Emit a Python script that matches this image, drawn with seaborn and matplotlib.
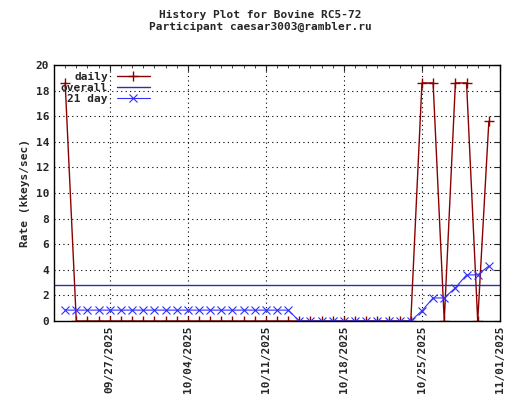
import matplotlib
matplotlib.use("Agg")
import matplotlib.pyplot as plt
import matplotlib.dates as mdates
import seaborn as sns
import pandas as pd
import numpy as np

sns.set_style("white")
plt.rcParams['font.family'] = ['DejaVu Sans Mono']

daily_dates = pd.date_range("2025-09-23", "2025-10-31", freq="D")
daily_vals = [18.6] + [0.0]*31 + [18.6, 18.6, 0.0, 18.6, 18.6, 0.0, 15.6]
avg_vals = [0.85]*21 + [0.0]*11 + [0.8, 1.8, 1.8, 2.6, 3.6, 3.6, 4.3]
overall = 2.8
title = "History Plot for Bovine RC5-72\nParticipant caesar3003@rambler.ru"

df = pd.DataFrame({"date": daily_dates, "daily": daily_vals, "avg": avg_vals})

fig = plt.figure(figsize=(5.2, 4.0), dpi=100)
ax = fig.add_axes([54/520, 1-321/400, 446/520, 256/400])
sns.lineplot(data=df, x="date", y="daily", ax=ax, color="#8b0000", lw=1,
             marker="+", markersize=7, mew=1, mec="#8b0000", label="daily")
ax.axhline(overall, color="#3030a0", lw=1, label="overall")
sns.lineplot(data=df, x="date", y="avg", ax=ax, color="#3030ff", lw=0.8,
             marker="x", markersize=6, mew=0.8, mec="#3030ff", label="21 day")

ax.set_xlim(pd.Timestamp("2025-09-22"), pd.Timestamp("2025-11-01"))
ax.set_ylim(0, 20)
ax.set_yticks(np.arange(0, 21, 2))
ax.xaxis.set_major_locator(mdates.WeekdayLocator(byweekday=mdates.SA))
ax.xaxis.set_major_formatter(mdates.DateFormatter("%m/%d/%Y"))
ax.xaxis.set_minor_locator(mdates.DayLocator())
plt.setp(ax.get_xticklabels(), rotation=90, fontsize=8, fontweight="bold")
plt.setp(ax.get_yticklabels(), fontsize=8, fontweight="bold")
ax.tick_params(which="both", direction="in", top=True, right=True, length=4)
ax.tick_params(which="minor", length=2)
ax.grid(True, which="major", color="black", ls=(0, (1, 3)), lw=0.8)
for s in ax.spines.values():
    s.set_color("black"); s.set_linewidth(1)
ax.set_xlabel("")
ax.set_ylabel("Rate (kkeys/sec)", fontsize=8, fontweight="bold")
fig.suptitle(title, y=0.975, fontsize=8, fontweight="bold")
leg = ax.legend(loc="upper left", markerfirst=False, frameon=False, fontsize=8,
                handlelength=3, borderaxespad=0.2, labelspacing=0.1)
for t in leg.get_texts():
    t.set_fontweight("bold")
fig.savefig("out.png", dpi=100)
